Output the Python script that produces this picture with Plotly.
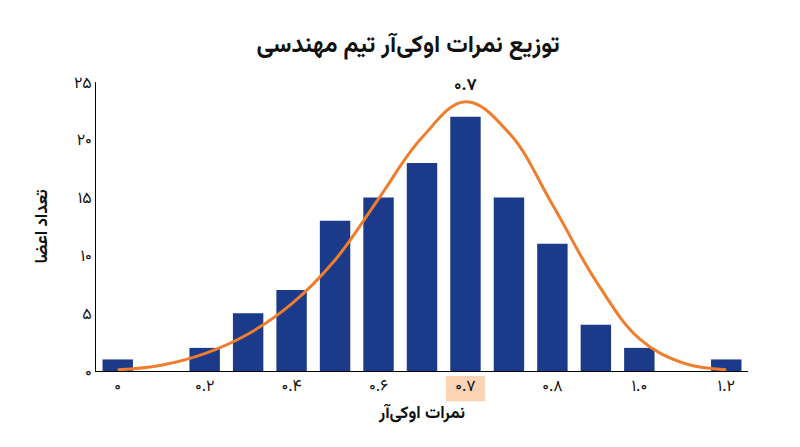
import plotly.graph_objects as go

# positions are half-steps of the axis (0 -> ۰, 8 -> ۰.۷, 14 -> ۱.۲)
bar_pos = [0, 2, 3, 4, 5, 6, 7, 8, 9, 10, 11, 12, 14]
bar_counts = [1, 2, 5, 7, 13, 15, 18, 22, 15, 11, 4, 2, 1]

curve_pos = list(range(15))
curve_vals = [0.1, 0.5, 1.5, 3.2, 5.8, 9.6, 14.9, 20.2, 23.3, 20.6, 14.4, 7.8, 2.8, 0.7, 0.1]

tick_pos = [0, 2, 4, 6, 8, 10, 12, 14]
tick_text = ["۰", "۰.۲", "۰.۴", "۰.۶", "۰.۷", "۰.۸", "۱.۰", "۱.۲"]
y_ticks = [0, 5, 10, 15, 20, 25]
y_text = ["۰", "۵", "۱۰", "۱۵", "۲۰", "۲۵"]

font = "Vazirmatn, Noto Sans, DejaVu Sans, sans-serif"

fig = go.Figure()
fig.add_trace(go.Bar(x=bar_pos, y=bar_counts, width=0.7,
                     marker=dict(color="#1b3a8a", line_width=0)))
fig.add_trace(go.Scatter(x=curve_pos, y=curve_vals, mode="lines",
                         line=dict(color="#ef7d2d", width=3, shape="spline", smoothing=1.1)))

# highlight behind the 0.7 tick
fig.add_shape(type="rect", xref="x", yref="paper", x0=7.55, x1=8.45, y0=-0.105, y1=-0.017,
              fillcolor="#fbd3b5", line_width=0, layer="below")
fig.add_annotation(x=8, y=max(curve_vals), text="<b>۰.۷</b>", showarrow=False,
                   yshift=16, font=dict(size=17, color="#111"))

fig.update_layout(
    width=800, height=447, plot_bgcolor="white", paper_bgcolor="white",
    showlegend=False, font=dict(family=font, color="#111", size=16),
    margin=dict(l=88, r=60, t=74, b=84),
    title=dict(text="<b>توزیع نمرات اوکی‌آر تیم مهندسی</b>", x=0.5, y=0.94,
               xanchor="center", font=dict(size=24)),
)
fig.update_xaxes(range=[-0.5, 14.5], tickvals=tick_pos, ticktext=tick_text,
                 showline=True, linecolor="black", linewidth=1, showgrid=False,
                 zeroline=False, tickfont=dict(size=16),
                 title=dict(text="<b>نمرات اوکی‌آر</b>", font=dict(size=17), standoff=6))
fig.update_yaxes(range=[0, 25], tickvals=y_ticks, ticktext=y_text,
                 showline=True, linecolor="black", linewidth=1, showgrid=False,
                 zeroline=False, tickfont=dict(size=16), ticklen=0,
                 title=dict(text="<b>تعداد اعضا</b>", font=dict(size=17), standoff=22))

fig.write_html("out.html")
